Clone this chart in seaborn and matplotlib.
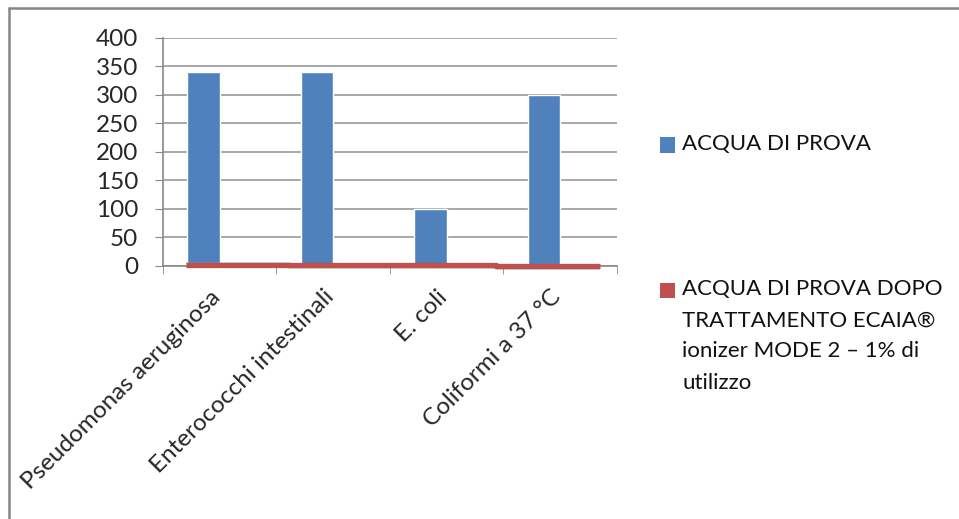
import matplotlib.pyplot as plt
import matplotlib.transforms as mtransforms
import numpy as np
import pandas as pd
import seaborn as sns
from matplotlib.lines import Line2D
from matplotlib.patches import Rectangle

categories = [
    "Pseudomonas aeruginosa",
    "Enterococchi intestinali",
    "E. coli",
    "Coliformi a 37 °C",
]
acqua_prova = [340, 340, 100, 300]
acqua_trattata = [0, 0, 0, 0]
# thick red line drawn along the baseline in the original (slightly sloping)
red_line = [2.5, 1.8, 1.0, 0.3]

series_names = [
    "ACQUA DI PROVA",
    "ACQUA DI PROVA DOPO\nTRATTAMENTO ECAIA\u00ae\nionizer MODE 2 \u2013 1% di\nutilizzo",
]
colors = ["#4F81BD", "#C0504D"]

df = pd.DataFrame({
    "categoria": categories * 2,
    "valore": acqua_prova + acqua_trattata,
    "serie": [series_names[0]] * 4 + [series_names[1]] * 4,
})

sns.set_style("white")
plt.rcParams["font.family"] = ["Lato", "DejaVu Sans"]

fig = plt.figure(figsize=(9.59, 5.19), dpi=100)
ax = fig.add_axes([0.170, 0.4875, 0.473, 0.4393])

sns.barplot(data=df, x="categoria", y="valore", hue="serie",
            palette=colors, width=0.57, saturation=1, legend=False, ax=ax)

# red line with soft shadow
idx = np.arange(len(categories))
edges = np.linspace(idx[0] - 0.3, idx[-1] + 0.35, len(categories) + 1)
ys = np.r_[red_line, red_line[-1]]
ax.step(edges, ys - 1.5, where="post", color="#999999", lw=4.2,
        alpha=0.45, zorder=4, solid_capstyle="butt", clip_on=False)
ax.step(edges, ys, where="post", color=colors[1], lw=3.8, zorder=5,
        solid_capstyle="butt", clip_on=False)

ax.set_ylim(0, 400)
ax.set_xlim(-0.5, len(categories) - 0.5)
ax.set_yticks(range(0, 401, 50))
ax.yaxis.grid(True, color="#9a9a9a", lw=1.2)
ax.set_axisbelow(True)
ax.set_xlabel("")
ax.set_ylabel("")

for s in ["top", "right"]:
    ax.spines[s].set_visible(False)
for s in ["left", "bottom"]:
    ax.spines[s].set_color("#888888")
    ax.spines[s].set_linewidth(1.2)

ax.tick_params(axis="y", length=6, color="#888888", labelsize=17.5, pad=12,
               left=True)
ax.set_xticks(idx)
ax.set_xticks(np.arange(-0.5, len(categories), 1.0), minor=True)
ax.tick_params(axis="x", which="minor", length=6, color="#888888",
               bottom=True)
ax.tick_params(axis="x", which="major", length=0, labelsize=17.5, pad=16)
ax.set_xticklabels(categories, rotation=45, ha="right",
                   rotation_mode="anchor")
for lab in ax.get_xticklabels():
    lab.set_transform(lab.get_transform() + mtransforms.ScaledTranslation(
        -0.1, 0.02, fig.dpi_scale_trans))

# legend, placed as in the original (square beside first text line)
W, H = 959, 519
legend_rows = [(145, series_names[0]), (290, series_names[1])]
for (y_px, label), c in zip(legend_rows, colors):
    fig.patches.append(Rectangle((660 / W, 1 - (y_px + 7.5) / H), 15 / W,
                                 15 / H, transform=fig.transFigure,
                                 facecolor=c, edgecolor="none"))
    fig.text(682 / W, 1 - (y_px - 11) / H, label, fontsize=16, va="top",
             ha="left", linespacing=1.7, color="#111111")

# chart border (top and left edges visible)
fig.add_artist(Line2D([9 / W, 1], [1 - 8 / H] * 2, color="#868686", lw=1.8))
fig.add_artist(Line2D([9 / W] * 2, [1 - 8 / H, 0], color="#868686", lw=1.8))

fig.savefig("out.png", dpi=100)
